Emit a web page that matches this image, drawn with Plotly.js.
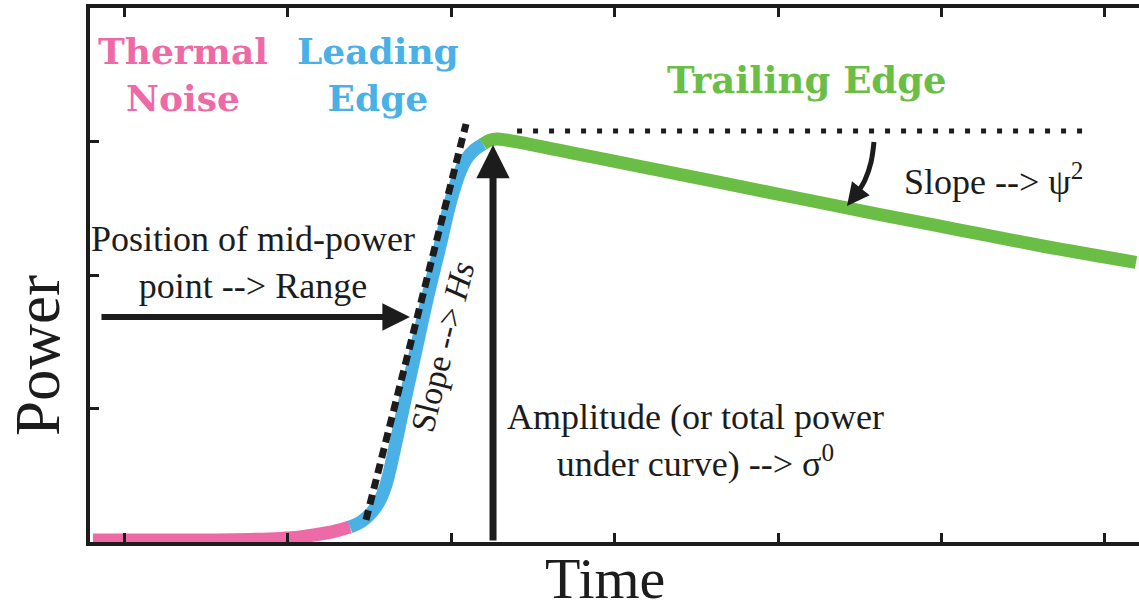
<!DOCTYPE html>
<html>
<head>
<meta charset="utf-8">
<script src="https://cdn.plot.ly/plotly-3.0.1.min.js"></script>
<style>html,body{margin:0;padding:0;background:#fff;}#chart{width:1139px;height:614px;}</style>
</head>
<body>
<div id="chart"></div>
<script>
// ---- Waveform segments (time units, power units) ----
var thermalX = [-0.190, 0.159, 0.465, 0.771, 0.954, 1.076, 1.199, 1.291, 1.382];
var thermalY = [0.015, 0.015, 0.015, 0.019, 0.026, 0.037, 0.060, 0.082, 0.112];

var leadingX = [1.382, 1.456, 1.517, 1.566, 1.602, 1.633, 1.719, 1.786, 1.853, 1.927, 2.000, 2.055, 2.098, 2.141, 2.196];
var leadingY = [0.112, 0.157, 0.225, 0.315, 0.427, 0.577, 1.064, 1.438, 1.813, 2.187, 2.562, 2.772, 2.876, 2.936, 2.981];

var trailingX = [2.196, 2.239, 2.281, 2.336, 2.422, 2.667, 2.911, 3.278, 3.645, 4.135, 4.624, 5.113, 5.602, 6.190];
var trailingY = [2.981, 3.011, 3.019, 3.011, 2.993, 2.933, 2.873, 2.783, 2.693, 2.573, 2.453, 2.337, 2.221, 2.094];

// fitted leading-edge slope (dashed) and peak reference level (dotted)
var slopeLineX = [1.480, 2.092];
var slopeLineY = [0.165, 3.131];
var peakRefX = [2.404, 5.908];
var peakRefY = [3.079, 3.079];

// curved arrow shaft pointing at the trailing edge
var curveArrowX = [4.587, 4.569, 4.532, 4.489];
var curveArrowY = [2.996, 2.846, 2.712, 2.622];

// arrows: [tipX, tipY, tailX, tailY]
var rangeArrow = [1.749, 1.685, -0.147, 1.685];
var amplitudeArrow = [2.257, 2.974, 2.257, 0.0];
var slopeArrowHead = [4.422, 2.517, 4.489, 2.622];

var xTicks = [0, 1, 2, 3, 4, 5, 6];
var yTicks = [1, 2, 3];

var PINK = '#EE6AA7', BLUE = '#4AB1E6', GREEN = '#6ABD45', INK = '#1c1c1c';
var SERIF = '"Liberation Serif", "Times New Roman", serif';
var SLAB = '"DejaVu Serif", serif';

var traces = [
  {x: thermalX, y: thermalY, mode: 'lines', line: {color: PINK, width: 13, shape: 'spline'}},
  {x: leadingX, y: leadingY, mode: 'lines', line: {color: BLUE, width: 13, shape: 'spline'}},
  {x: trailingX, y: trailingY, mode: 'lines', line: {color: GREEN, width: 13, shape: 'spline'}},
  {x: slopeLineX, y: slopeLineY, mode: 'lines', line: {color: INK, width: 7, dash: '10px,6px'}},
  {x: peakRefX, y: peakRefY, mode: 'lines', line: {color: INK, width: 5, dash: '5px,11px'}},
  {x: curveArrowX, y: curveArrowY, mode: 'lines', line: {color: INK, width: 5, shape: 'spline'}}
];

function arrow(a, w, size, head) {
  return {x: a[0], y: a[1], ax: a[2], ay: a[3], xref: 'x', yref: 'y', axref: 'x', ayref: 'y',
          text: '', showarrow: true, arrowhead: head, arrowwidth: w, arrowsize: size, arrowcolor: INK, standoff: 0};
}

var annotations = [
  arrow(rangeArrow, 6, 0.92, 2),
  arrow(amplitudeArrow, 7, 0.95, 2),
  arrow(slopeArrowHead, 5, 0.9, 2),
  {x: 0.361, y: 3.505, xref: 'x', yref: 'y', text: '<b>Thermal<br>Noise</b>', showarrow: false,
   font: {family: SLAB, size: 36, color: PINK}},
  {x: 1.554, y: 3.505, xref: 'x', yref: 'y', text: '<b>Leading<br>Edge</b>', showarrow: false,
   font: {family: SLAB, size: 36, color: BLUE}},
  {x: 4.177, y: 3.461, xref: 'x', yref: 'y', text: '<b>Trailing Edge</b>', showarrow: false,
   font: {family: SLAB, size: 37, color: GREEN}},
  {x: 0.789, y: 2.090, xref: 'x', yref: 'y', text: 'Position of mid-power<br>point --&gt; Range', showarrow: false,
   font: {family: SERIF, size: 36, color: INK}},
  {x: 1.951, y: 1.461, xref: 'x', yref: 'y', text: 'Slope --&gt; <i>Hs</i>', showarrow: false, textangle: -76,
   font: {family: SERIF, size: 34, color: INK}},
  {x: 3.498, y: 0.764, xref: 'x', yref: 'y', text: 'Amplitude (or total power<br>under curve) --&gt; σ<sup>0</sup>', showarrow: false,
   font: {family: SERIF, size: 36, color: INK}},
  {x: 5.318, y: 2.712, xref: 'x', yref: 'y', text: 'Slope --&gt; ψ<sup>2</sup>', showarrow: false,
   font: {family: SERIF, size: 36, color: INK}},
  {x: -0.0496, y: 0.350, xref: 'paper', yref: 'paper', xanchor: 'center', yanchor: 'middle',
   text: 'Power', showarrow: false, textangle: -90,
   font: {family: SERIF, size: 63, color: INK}},
  {x: 0.491, y: -0.133, xref: 'paper', yref: 'paper', xanchor: 'center', yanchor: 'bottom',
   text: 'Time', showarrow: false,
   font: {family: SERIF, size: 58, color: INK}}
];

var layout = {
  width: 1139, height: 614,
  margin: {l: 90, r: 0, t: 8, b: 72},
  paper_bgcolor: '#ffffff', plot_bgcolor: '#ffffff',
  showlegend: false,
  xaxis: {range: [-0.208, 6.208], showgrid: false, zeroline: false, showline: true, linewidth: 4, linecolor: INK,
          mirror: 'ticks', ticks: 'inside', ticklen: 9, tickwidth: 3, tickcolor: INK, tickvals: xTicks, showticklabels: false},
  yaxis: {range: [0, 4], showgrid: false, zeroline: false, showline: true, linewidth: 4, linecolor: INK,
          mirror: false, ticks: 'inside', ticklen: 9, tickwidth: 3, tickcolor: INK, tickvals: yTicks, showticklabels: false},
  annotations: annotations
};

Plotly.newPlot('chart', traces, layout, {staticPlot: true, displayModeBar: false});
</script>
</body>
</html>
